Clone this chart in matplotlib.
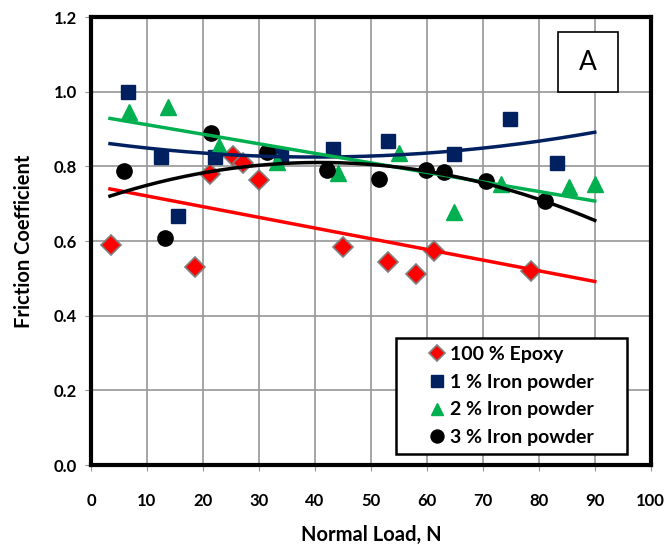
import numpy as np
import matplotlib
matplotlib.use("Agg")
import matplotlib.pyplot as plt
from matplotlib.patches import Rectangle

plt.rcParams['font.family'] = ['Lato', 'DejaVu Sans']

epoxy_x = [3.5, 18.6, 21.25, 25.3, 27.1, 30.0, 45.1, 53.1, 58.1, 61.25, 78.7]
epoxy_y = [0.589, 0.531, 0.780, 0.829, 0.808, 0.763, 0.585, 0.543, 0.512, 0.573, 0.521]

iron1_x = [6.66, 12.5, 15.5, 22.1, 34.0, 43.3, 53.0, 64.9, 74.9, 83.2]
iron1_y = [1.000, 0.824, 0.667, 0.826, 0.830, 0.846, 0.868, 0.833, 0.926, 0.808]

iron2_x = [6.8, 13.8, 22.9, 33.3, 44.2, 55.0, 64.9, 73.2, 85.4, 90.0]
iron2_y = [0.946, 0.960, 0.855, 0.812, 0.781, 0.835, 0.679, 0.753, 0.746, 0.753]

iron3_x = [5.95, 13.2, 21.5, 31.5, 42.1, 51.5, 59.8, 63.1, 70.5, 81.1]
iron3_y = [0.788, 0.609, 0.888, 0.839, 0.790, 0.767, 0.790, 0.785, 0.761, 0.707]

labels = ['100 % Epoxy', '1 % Iron powder', '2 % Iron powder', '3 % Iron powder']

fig = plt.figure(figsize=(6.64, 5.49), dpi=100)
ax = fig.add_axes([0.137, 0.153, 0.843, 0.816])

navy = '#002060'
green = '#00B050'

ax.plot(epoxy_x, epoxy_y, 'D', color='red', mec='#808080', mew=1.2, ms=10, label=labels[0], zorder=3)
ax.plot(iron1_x, iron1_y, 's', color=navy, mec=navy, ms=10.5, label=labels[1], zorder=3)
ax.plot(iron2_x, iron2_y, '^', color=green, mec=green, ms=11, label=labels[2], zorder=3)
ax.plot(iron3_x, iron3_y, 'o', color='black', ms=11, label=labels[3], zorder=3)

# trendlines
xt = np.linspace(3.4, 90, 200)
for xs, ys, deg, c in [(epoxy_x, epoxy_y, 1, 'red'), (iron1_x, iron1_y, 2, navy),
                       (iron2_x, iron2_y, 1, green), (iron3_x, iron3_y, 2, 'black')]:
    p = np.polyfit(xs, ys, deg)
    ax.plot(xt, np.polyval(p, xt), color=c, lw=2.5, zorder=4)

ax.set_xlim(0, 100)
ax.set_ylim(0, 1.2)
ax.set_xticks(np.arange(0, 101, 10))
ax.set_yticks(np.arange(0, 1.21, 0.2))
ax.set_yticklabels([f'{v:.1f}' for v in np.arange(0, 1.21, 0.2)])
ax.grid(True, color='#969696', lw=1.2)
ax.set_axisbelow(True)
for s in ax.spines.values():
    s.set_linewidth(3)
    s.set_color('black')
ax.tick_params(direction='out', length=4, color='#969696', labelsize=12, pad=6)
for t in ax.get_xticklabels() + ax.get_yticklabels():
    t.set_fontweight('bold')
ax.tick_params(axis='x', pad=16)

ax.set_xlabel('Normal Load, N', fontsize=14.5, fontweight='bold', labelpad=12)
ax.set_ylabel('Friction Coefficient', fontsize=14.5, fontweight='bold', labelpad=14)

ax.add_patch(Rectangle((83.45, 0.998), 10.75, 0.161, fill=True, fc='white', ec='black', lw=1.2, zorder=5))
ax.text(88.8, 1.078, 'A', fontsize=19, ha='center', va='center', zorder=6)

# legend box with centred entries
ax.add_patch(Rectangle((0.5446, 0.0246), 0.4125, 0.2584, transform=ax.transAxes,
                       fc='white', ec='black', lw=1.8, zorder=5))
leg = ax.legend(loc='center', bbox_to_anchor=(0.751, 0.154), borderaxespad=0,
                frameon=False, fontsize=14, borderpad=0,
                handlelength=0.8, handletextpad=0.25, markerscale=0.85,
                labelspacing=0.55)
leg.set_zorder(6)
for t in leg.get_texts():
    t.set_fontweight('bold')

fig.savefig('out.png', dpi=100)
